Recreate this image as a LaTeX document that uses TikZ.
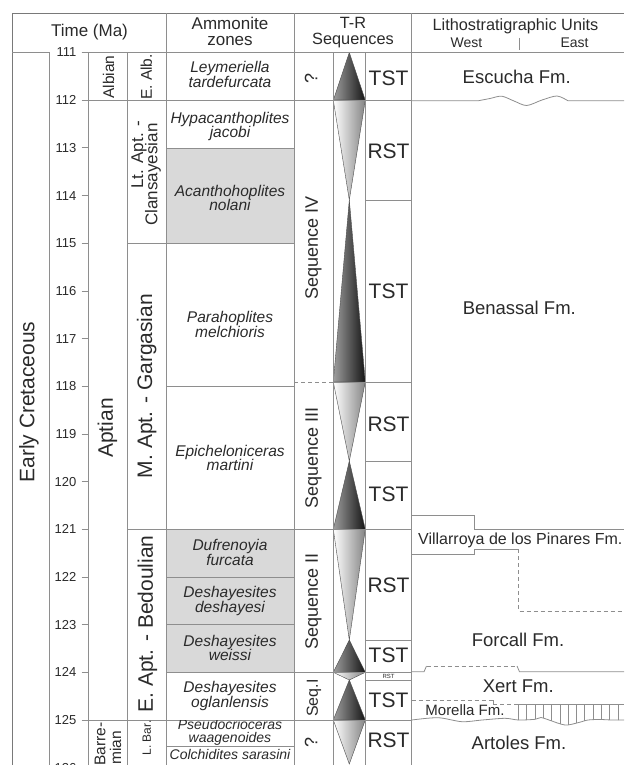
\documentclass[tikz,border=0pt]{standalone}
\usepackage{fontspec}
\setmainfont{Liberation Sans}
\definecolor{ln}{HTML}{8E8E8E}
\definecolor{txt}{HTML}{2A2A2A}
\definecolor{zonegrey}{HTML}{D9D9D9}
\begin{document}
\begin{tikzpicture}[x=1pt,y=-1pt,
  grid/.style={draw=ln,line width=0.8pt},
  frameln/.style={draw=ln!85!black,line width=1pt},
  dashln/.style={draw=ln,line width=0.8pt,dash pattern=on 4pt off 3pt},
  hatchln/.style={draw=ln,line width=0.6pt},
  tx/.style={inner sep=0pt,text=txt},
  hdr/.style={tx,anchor=base,font=\fontsize{17}{17}\selectfont},
  hdrs/.style={tx,anchor=base,font=\fontsize{16.3}{16.3}\selectfont},
  hdrxs/.style={tx,anchor=base,font=\fontsize{14}{14}\selectfont},
  ticklbl/.style={tx,anchor=east,font=\fontsize{13}{13}\selectfont},
  bigrot/.style={tx,rotate=90,font=\fontsize{21}{21}\selectfont},
  midrot/.style={tx,rotate=90,font=\fontsize{17}{17}\selectfont},
  smrot/.style={tx,rotate=90,font=\fontsize{15.5}{15.5}\selectfont},
  xsrot/.style={tx,rotate=90,font=\fontsize{12}{12}\selectfont},
  seqrot/.style={tx,rotate=90,font=\fontsize{18}{18}\selectfont},
  amm/.style={tx,anchor=base,font=\fontsize{15.5}{15.5}\selectfont\itshape},
  ammsm/.style={tx,anchor=base,font=\fontsize{14}{14}\selectfont\itshape},
  tract/.style={tx,anchor=base,font=\fontsize{21}{21}\selectfont},
  fmlbl/.style={tx,anchor=base,font=\fontsize{18.5}{18.5}\selectfont},
  tstshade/.style={left color=black!38,right color=black!92,draw=black!70,line width=0.4pt},
  rstshade/.style={left color=white,right color=black!48,draw=black!70,line width=0.4pt},
]
\useasboundingbox (0,0) rectangle (624,765);
\clip (0,0) rectangle (624,765);

% grey ammonite zones
\fill[zonegrey] (166,147.9) rectangle (294,243.2);
\fill[zonegrey] (166,529.3) rectangle (294,672.3);

% T-R triangles
\shadedraw[tstshade] (349.3,52.5) -- (365.3,100.2) -- (333.3,100.2) -- cycle;
\shadedraw[rstshade] (333.3,100.2) -- (365.3,100.2) -- (349.3,200) -- cycle;
\shadedraw[tstshade] (349.3,200) -- (365.3,382) -- (333.3,382) -- cycle;
\shadedraw[rstshade] (333.3,382) -- (365.3,382) -- (349.3,461) -- cycle;
\shadedraw[tstshade] (349.3,461) -- (365.3,529.3) -- (333.3,529.3) -- cycle;
\shadedraw[rstshade] (333.3,529.3) -- (365.3,529.3) -- (349.3,640) -- cycle;
\shadedraw[tstshade] (349.3,640) -- (365.3,672.3) -- (333.3,672.3) -- cycle;
\shadedraw[rstshade] (333.3,672.3) -- (365.3,672.3) -- (349.3,680) -- cycle;
\shadedraw[tstshade] (349.3,680) -- (365.3,720) -- (333.3,720) -- cycle;
\shadedraw[rstshade] (333.3,720) -- (365.3,720) -- (349.3,764) -- cycle;

% frame and header
\draw[frameln] (12,765) -- (12,13.5) -- (624,13.5);
\draw[grid] (12,52.5) -- (49,52.5);
\draw[grid] (81.7,52.5) -- (624,52.5);
\draw[grid] (519,38) -- (519,50);

% vertical column lines
\draw[grid] (49,52.5) -- (49,765);
\draw[grid] (88,52.5) -- (88,765);
\draw[grid] (127,52.5) -- (127,765);
\draw[grid] (166,13.5) -- (166,765);
\draw[grid] (294,13.5) -- (294,765);
\draw[grid] (333.3,52.5) -- (333.3,765);
\draw[grid] (365.3,52.5) -- (365.3,765);
\draw[grid] (411.7,13.5) -- (411.7,765);

% ticks and labels
\foreach \t in {111,...,126}{
  \draw[grid] (81.7,{52.5+(\t-111)*47.68}) -- (88,{52.5+(\t-111)*47.68});
  \node[ticklbl] (tk\t) at (76.5,{52.5+(\t-111)*47.68}) {\t};
}

% horizontal boundaries
\draw[grid] (88,100.2) -- (411.7,100.2);
\draw[grid] (166,147.9) -- (294,147.9);
\draw[grid] (365.3,200) -- (411.7,200);
\draw[grid] (127,243.2) -- (294,243.2);
\draw[dashln] (294,382) -- (333.3,382);
\draw[grid] (333.3,382) -- (411.7,382);
\draw[grid] (166,386.3) -- (294,386.3);
\draw[grid] (365.3,461) -- (411.7,461);
\draw[grid] (127,529.3) -- (411.7,529.3);
\draw[grid] (166,577) -- (294,577);
\draw[grid] (166,624.7) -- (294,624.7);
\draw[grid] (365.3,640) -- (411.7,640);
\draw[grid] (166,672.3) -- (411.7,672.3);
\draw[grid] (365.3,680) -- (411.7,680);
\draw[grid] (88,720) -- (411.7,720);
\draw[grid] (166,746.7) -- (294,746.7);

% lithostratigraphic boundaries
\draw[grid] (411.7,100.8) -- (478,100.8)
  -- plot[smooth] coordinates {(478,100.8) (490,98.5) (501.7,96.2) (514,101) (526.7,105.5) (542,100) (557,96) (568,100.8)}
  -- (624,100.8);
\draw[grid] (411.7,515) -- (474,515) -- (474,529.3) -- (624,529.3);
\draw[grid] (411.7,554) -- (474,554) -- (474,549.3) -- (518.3,549.3);
\draw[dashln] (518.3,549.3) -- (518.3,611) -- (624,611);
\draw[grid] (411.7,671.8) -- (424,671.8) -- (426.5,666);
\draw[dashln] (426.5,666) -- (517,666);
\draw[grid] (517,666) -- (519.5,671.8) -- (624,671.8);
\draw[dashln] (411.7,700) -- (493.3,700);
\draw[grid] (493.3,700) -- (493.3,704);
\draw[dashln] (493.3,704) -- (518.3,704);
\draw[grid] (518.3,704) -- (624,704);
\draw[grid] plot[smooth] coordinates {(411.7,720) (438,717.7) (462,721.7) (482,720) (505,718.3) (518.3,720) (535,719.3) (541,717.5) (549,720) (565,725) (578,722.7) (588,720) (600,719.5) (612,720) (624,720)};
\begin{scope}
  \clip (411.7,704) -- plot[smooth] coordinates {(411.7,720) (438,717.7) (462,721.7) (482,720) (505,718.3) (518.3,720) (535,719.3) (541,717.5) (549,720) (565,725) (578,722.7) (588,720) (600,719.5) (612,720) (624,720)} -- (624,704) -- cycle;
  \foreach \i in {0,...,12}
    \draw[hatchln] ({518.3+8.3*\i},704) -- ({518.3+8.3*\i},730);
\end{scope}

% header texts
\node[hdr] (hTime) at (89.5,36.5) {Time (Ma)};
\node[hdr] (hAmm1) at (230,30) {Ammonite};
\node[hdr] (hAmm2) at (230,45.5) {zones};
\node[hdrs] (hTR1) at (353,29) {T-R};
\node[hdrs] (hTR2) at (353,44.5) {Sequences};
\node[hdrs] (hLit) at (515.5,31) {Lithostratigraphic Units};
\node[hdrxs] (hWest) at (466.5,47.5) {West};
\node[hdrxs] (hEast) at (574.5,47.5) {East};

% era, stage, substage
\node[bigrot] (era) at (29,402) {Early Cretaceous};
\node[smrot] (albian) at (108.5,77) {Albian};
\node[bigrot] (aptian) at (107.5,428) {Aptian};
\node[smrot] (barre1) at (100,744) {Barre-};
\node[smrot] (barre2) at (115.5,748) {mian};
\node[smrot] (ealb) at (146.3,77) {E. Alb.};
\node[midrot] (ltapt1) at (139,155) {Lt. Apt. -};
\node[midrot] (ltapt2) at (153,174.5) {Clansayesian};
\node[bigrot] (mapt) at (146.7,386) {M. Apt. - Gargasian};
\node[bigrot] (eapt) at (147.5,624) {E. Apt. - Bedoulian};
\node[xsrot] (lbar) at (146.7,738) {L. Bar.};

% ammonite zones
\node[amm] (z1a) at (230,73) {Leymeriella};
\node[amm] (z1b) at (230,88) {tardefurcata};
\node[amm] (z2a) at (230,124) {Hypacanthoplites};
\node[amm] (z2b) at (230,138) {jacobi};
\node[amm] (z3a) at (230,196) {Acanthohoplites};
\node[amm] (z3b) at (230,210) {nolani};
\node[amm] (z4a) at (230,322) {Parahoplites};
\node[amm] (z4b) at (230,337) {melchioris};
\node[amm] (z5a) at (230,456.5) {Epicheloniceras};
\node[amm] (z5b) at (230,470.5) {martini};
\node[amm] (z6a) at (230,550.5) {Dufrenoyia};
\node[amm] (z6b) at (230,565) {furcata};
\node[amm] (z7a) at (230,597) {Deshayesites};
\node[amm] (z7b) at (230,612) {deshayesi};
\node[amm] (z8a) at (230,646) {Deshayesites};
\node[amm] (z8b) at (230,660) {weissi};
\node[amm] (z9a) at (230,692.5) {Deshayesites};
\node[amm] (z9b) at (230,707.5) {oglanlensis};
\begin{scope}
  \clip (166,720.5) rectangle (294,746.5);
  \node[ammsm] (z10a) at (230,729.5) {Pseudocrioceras};
\end{scope}
\node[ammsm] (z10b) at (230,742) {waagenoides};
\node[ammsm] (z11) at (230,759.5) {Colchidites sarasini};

% sequences
\node[seqrot] (q1) at (311,78) {?};
\node[seqrot] (seqIV) at (313.5,248) {Sequence IV};
\node[seqrot] (seqIII) at (313.5,458) {Sequence III};
\node[seqrot] (seqII) at (313.5,601.5) {Sequence II};
\node[tx,rotate=90,font=\fontsize{16}{16}\selectfont] (seqI) at (314,698) {Seq.I};
\node[seqrot] (q2) at (311,742) {?};

% systems tracts
\node[tract] (st1) at (388.5,86) {TST};
\node[tract] (st2) at (388.5,158) {RST};
\node[tract] (st3) at (388.5,298) {TST};
\node[tract] (st4) at (388.5,431) {RST};
\node[tract] (st5) at (388.5,501.5) {TST};
\node[tract] (st6) at (388.5,592) {RST};
\node[tract] (st7) at (388.5,662) {TST};
\node[tx,font=\fontsize{6}{6}\selectfont] (st8) at (388.5,676) {RST};
\node[tract] (st9) at (388.5,707) {TST};
\node[tract] (st10) at (388.5,747) {RST};

% formations
\node[fmlbl] (fEsc) at (516.7,83.5) {Escucha Fm.};
\node[fmlbl] (fBen) at (519.3,314.5) {Benassal Fm.};
\node[tx,anchor=base,font=\fontsize{16}{16}\selectfont] (fVil) at (520.3,544.5) {Villarroya de los Pinares Fm.};
\node[fmlbl] (fFor) at (518,646) {Forcall Fm.};
\node[fmlbl] (fXer) at (518.3,692) {Xert Fm.};
\node[tx,anchor=base,font=\fontsize{15}{15}\selectfont] (fMor) at (465,715.5) {Morella Fm.};
\node[fmlbl] (fArt) at (519,749.5) {Artoles Fm.};
\end{tikzpicture}
\end{document}
